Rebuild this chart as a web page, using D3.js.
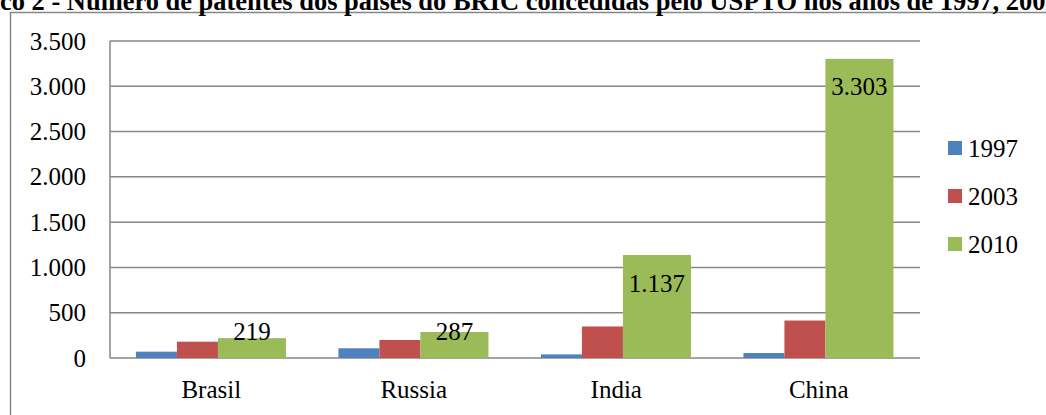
<!DOCTYPE html>
<html>
<head>
<meta charset="utf-8">
<script src="https://cdn.jsdelivr.net/npm/d3@7"></script>
<style>
  body { margin: 0; background: #fff; }
</style>
</head>
<body>
<div id="chart"></div>
<script>
(function() {
	var width = 1046
	var height = 415

	// data
	var countries = ["Brasil", "Russia", "India", "China"]
	var years = ["1997", "2003", "2010"]
	var v1997 = [70, 107, 40, 55]
	var v2003 = [180, 199, 348, 414]
	var v2010 = [219, 287, 1137, 3303]
	var yTicks = [0, 500, 1000, 1500, 2000, 2500, 3000, 3500]
	var colors = ["#4F81BD", "#C0504D", "#9BBB59"]
	var title = "Gráfico 2 - Número de patentes dos países do BRIC concedidas pelo USPTO nos anos de 1997, 2003 e 2010"

	var series = [v1997, v2003, v2010]
	var fmt = function(d) { return d3.format(",")(d).replace(/,/g, ".") }
	var serif = "'Liberation Serif', 'Times New Roman', serif"

	var margin = { top: 41, left: 110, right: 126, bottom: 57 }

	var svg = d3.select("#chart")
		.append("svg")
		.attr("width", width)
		.attr("height", height)
		.style("font-family", serif)

	// outer frame
	svg.append("rect")
		.attr("x", 10.5)
		.attr("y", 12.5)
		.attr("width", width)
		.attr("height", height)
		.attr("fill", "none")
		.attr("stroke", "#868686")
		.attr("stroke-width", 1.5)

	// title (cropped at the top/sides as in the original)
	var t = svg.append("text")
		.attr("font-weight", "bold")
		.attr("font-size", 20)
		.text("co 2 - Número de patentes dos países do BRIC concedidas pelo USPTO nos anos de 1997, 200")
	var fs = 20 * width / t.node().getComputedTextLength()
	t.attr("font-size", fs).text("Gráfi")
	var pre = t.node().getComputedTextLength()
	t.text(title)
		.attr("x", -pre)
		.attr("y", 10)

	var g = svg.append("g")
		.attr("transform", "translate(" + margin.left + "," + margin.top + ")")

	var w = width - margin.left - margin.right
	var h = height - margin.top - margin.bottom

	var x = d3.scaleBand()
		.domain(countries)
		.range([0, w])

	var y = d3.scaleLinear()
		.domain([0, 3500])
		.range([h, 0])

	// gridlines
	g.selectAll(".grid")
		.data(yTicks)
		.enter().append("line")
		.attr("class", "grid")
		.attr("x1", 0)
		.attr("x2", w)
		.attr("y1", function(d) { return y(d) })
		.attr("y2", function(d) { return y(d) })
		.attr("stroke", "#868686")
		.attr("stroke-width", 1.5)

	g.append("line")
		.attr("x1", 0).attr("x2", 0)
		.attr("y1", 0).attr("y2", h)
		.attr("stroke", "#868686")
		.attr("stroke-width", 1.5)

	// y tick labels
	g.selectAll(".ytick")
		.data(yTicks)
		.enter().append("text")
		.attr("class", "ytick")
		.attr("x", -24)
		.attr("y", function(d) { return y(d) })
		.attr("dy", "0.34em")
		.attr("text-anchor", "end")
		.attr("font-size", 25)
		.text(fmt)

	// bar layout inside each band: blue, red narrow, green wider
	var bw = x.bandwidth()
	var widths = [0.2025 * bw, 0.2025 * bw, 0.336 * bw]
	var offsets = [0.128 * bw, 0.128 * bw + widths[0], 0.128 * bw + widths[0] + widths[1]]

	series.forEach(function(vals, si) {
		g.selectAll(".bar" + si)
			.data(vals)
			.enter().append("rect")
			.attr("class", "bar" + si)
			.attr("x", function(d, i) { return x(countries[i]) + offsets[si] })
			.attr("width", widths[si])
			.attr("y", function(d) { return y(d) })
			.attr("height", function(d) { return h - y(d) })
			.attr("fill", colors[si])
	})

	// value labels on the 2010 series
	g.selectAll(".vlabel")
		.data(v2010)
		.enter().append("text")
		.attr("class", "vlabel")
		.attr("x", function(d, i) { return x(countries[i]) + offsets[2] + widths[2] / 2 })
		.attr("y", function(d) { return Math.min(y(d) + 28, h - 27) })
		.attr("dy", "0.34em")
		.attr("text-anchor", "middle")
		.attr("font-size", 25)
		.text(fmt)

	// category labels
	g.selectAll(".xlabel")
		.data(countries)
		.enter().append("text")
		.attr("class", "xlabel")
		.attr("x", function(d) { return x(d) + bw / 2 })
		.attr("y", h + 40)
		.attr("text-anchor", "middle")
		.attr("font-size", 25)
		.text(function(d) { return d })

	// legend
	var legend = svg.selectAll(".legend")
		.data(years)
		.enter().append("g")
		.attr("class", "legend")
		.attr("transform", function(d, i) { return "translate(948," + (148 + i * 48) + ")" })

	legend.append("rect")
		.attr("x", 0)
		.attr("y", -7)
		.attr("width", 14)
		.attr("height", 14)
		.attr("fill", function(d, i) { return colors[i] })

	legend.append("text")
		.attr("x", 20)
		.attr("y", 0)
		.attr("dy", "0.34em")
		.attr("font-size", 25)
		.text(function(d) { return d })
})();
</script>
</body>
</html>
